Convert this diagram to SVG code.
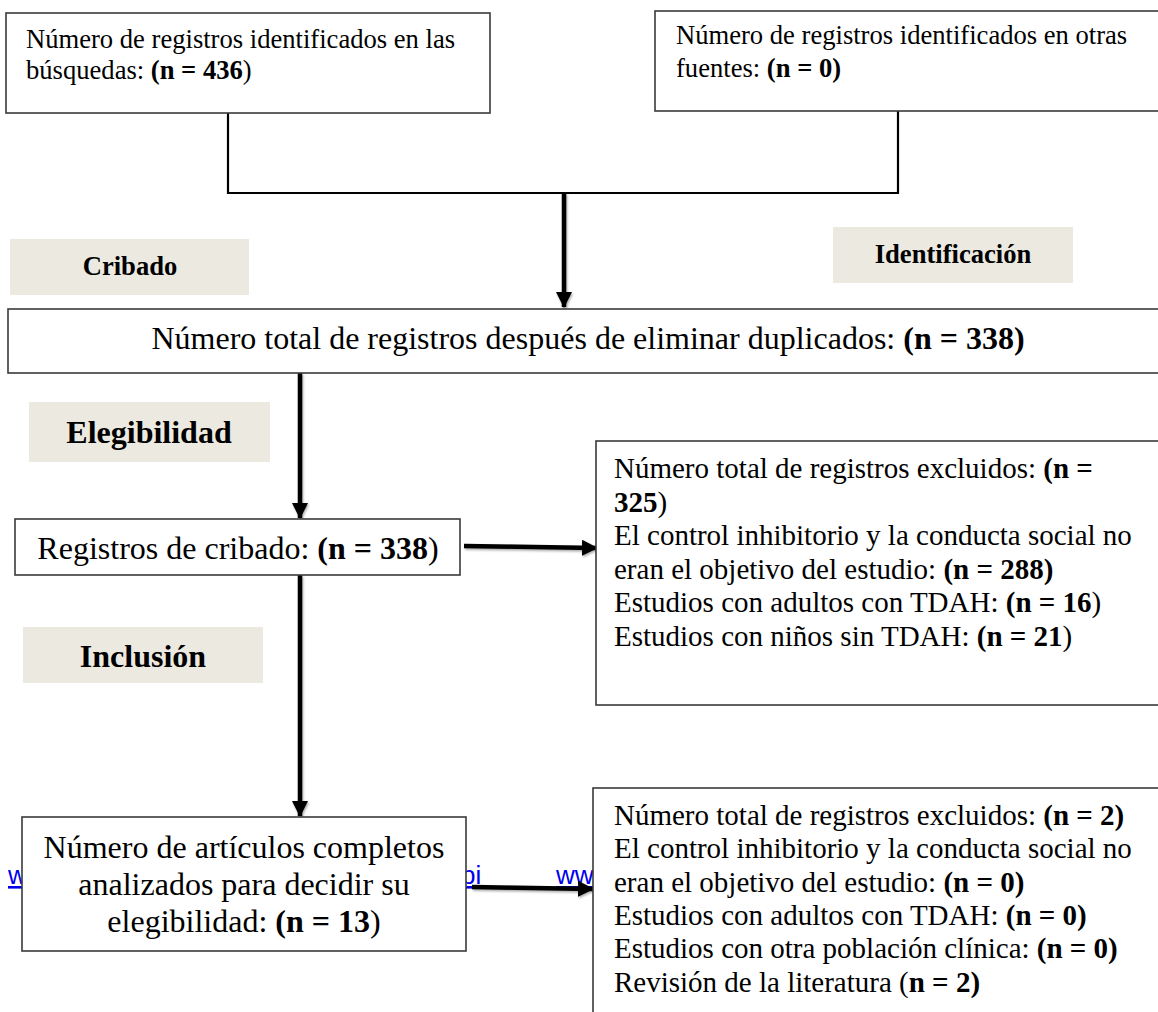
<svg xmlns="http://www.w3.org/2000/svg" width="1158" height="1012" viewBox="0 0 1158 1012">
<style>
  text { font-family: "Liberation Serif", "Times New Roman", serif; fill: #000; }
  .box { fill: #fff; stroke: #3a3a3a; stroke-width: 1.6; }
  .lbl { fill: #ECEAE0; stroke: none; }
  .lt { font-weight: bold; text-anchor: middle; }
  .b { font-weight: bold; }
  .t26 { font-size: 26.6px; }
  .t29 { font-size: 29px; }
  .t32 { font-size: 32px; }
  .link { font-family: "Liberation Sans", Arial, sans-serif; font-size: 26px; fill: #0000EE; text-decoration: underline; }
  .line { stroke: #000; stroke-width: 2.2; fill: none; }
  .arr { stroke: #000; stroke-width: 4.5; fill: none; marker-end: url(#ah); filter: url(#sh); }
</style>
<defs>
  <marker id="ah" markerUnits="userSpaceOnUse" markerWidth="16" markerHeight="16" refX="15" refY="8" orient="auto">
    <path d="M0,0 L16,8 L0,16 Z" fill="#000"/>
  </marker>
  <filter id="sh" filterUnits="userSpaceOnUse" x="0" y="0" width="1158" height="1012">
    <feDropShadow dx="1" dy="1.5" stdDeviation="1.2" flood-color="#000" flood-opacity="0.35"/>
  </filter>
</defs>

<rect width="1158" height="1012" fill="#fff"/>

<g id="links">
  <text class="link" x="8" y="884">w</text>
  <text class="link" x="461" y="884">bi</text>
  <text class="link" x="556" y="884">ww</text>
</g>

<g id="connectors">
  <path class="line" d="M228,113 V193 H898 V111"/>
  <line class="arr" x1="564" y1="193" x2="564" y2="307"/>
  <line class="arr" x1="300" y1="373" x2="300" y2="518"/>
  <line class="arr" x1="464" y1="546" x2="597" y2="548"/>
  <line class="arr" x1="300" y1="575" x2="300" y2="816"/>
  <line class="arr" x1="472" y1="887" x2="593" y2="889"/>
</g>

<g id="n-busquedas">
  <rect class="box" x="6" y="13" width="484" height="100"/>
  <text class="t26" x="26" y="48">Número de registros identificados en las</text>
  <text class="t26" x="26" y="79">búsquedas: <tspan class="b">(n = 436</tspan>)</text>
</g>

<g id="n-otras">
  <rect class="box" x="655" y="11" width="510" height="100"/>
  <text class="t26" x="676" y="44">Número de registros identificados en otras</text>
  <text class="t26" x="676" y="77">fuentes: <tspan class="b">(n = 0)</tspan></text>
</g>

<g id="l-cribado">
  <rect class="lbl" x="10" y="239" width="239" height="56"/>
  <text class="lt t26" x="130" y="275">Cribado</text>
</g>

<g id="l-identificacion">
  <rect class="lbl" x="833" y="227" width="240" height="56"/>
  <text class="lt t26" x="953" y="263">Identificación</text>
</g>

<g id="n-total">
  <rect class="box" x="8" y="309" width="1160" height="64"/>
  <text class="t32" x="588" y="349" text-anchor="middle">Número total de registros después de eliminar duplicados: <tspan class="b">(n = 338)</tspan></text>
</g>

<g id="l-elegibilidad">
  <rect class="lbl" x="29" y="402" width="241" height="60"/>
  <text class="lt t32" x="149" y="443">Elegibilidad</text>
</g>

<g id="n-cribado">
  <rect class="box" x="15" y="519" width="445" height="56"/>
  <text class="t32" x="238" y="559" text-anchor="middle">Registros de cribado: <tspan class="b">(n = 338</tspan>)</text>
</g>

<g id="n-excluidos1">
  <rect class="box" x="596" y="441" width="570" height="264"/>
  <text class="t29" x="614" y="478">Número total de registros excluidos: <tspan class="b">(n =</tspan></text>
  <text class="t29" x="614" y="511.5"><tspan class="b">325</tspan>)</text>
  <text class="t29" x="614" y="545">El control inhibitorio y la conducta social no</text>
  <text class="t29" x="614" y="578.5">eran el objetivo del estudio: <tspan class="b">(n = 288)</tspan></text>
  <text class="t29" x="614" y="612">Estudios con adultos con TDAH: <tspan class="b">(n = 16</tspan>)</text>
  <text class="t29" x="614" y="645.5">Estudios con niños sin TDAH: <tspan class="b">(n = 21</tspan>)</text>
</g>

<g id="l-inclusion">
  <rect class="lbl" x="23" y="627" width="240" height="56"/>
  <text class="lt t32" x="143" y="667">Inclusión</text>
</g>

<g id="n-articulos">
  <rect class="box" x="22" y="817" width="444" height="134"/>
  <text class="t32" x="244" y="858" text-anchor="middle">Número de artículos completos</text>
  <text class="t32" x="244" y="895" text-anchor="middle">analizados para decidir su</text>
  <text class="t32" x="244" y="932" text-anchor="middle">elegibilidad: <tspan class="b">(n = 13</tspan>)</text>
</g>

<g id="n-excluidos2">
  <rect class="box" x="593" y="788" width="573" height="230"/>
  <text class="t29" x="614" y="825">Número total de registros excluidos: <tspan class="b">(n = 2)</tspan></text>
  <text class="t29" x="614" y="858.3">El control inhibitorio y la conducta social no</text>
  <text class="t29" x="614" y="891.6">eran el objetivo del estudio: <tspan class="b">(n = 0)</tspan></text>
  <text class="t29" x="614" y="925">Estudios con adultos con TDAH: <tspan class="b">(n = 0)</tspan></text>
  <text class="t29" x="614" y="958.3">Estudios con otra población clínica: <tspan class="b">(n = 0)</tspan></text>
  <text class="t29" x="614" y="991.6">Revisión de la literatura (<tspan class="b">n = 2)</tspan></text>
</g>
</svg>
